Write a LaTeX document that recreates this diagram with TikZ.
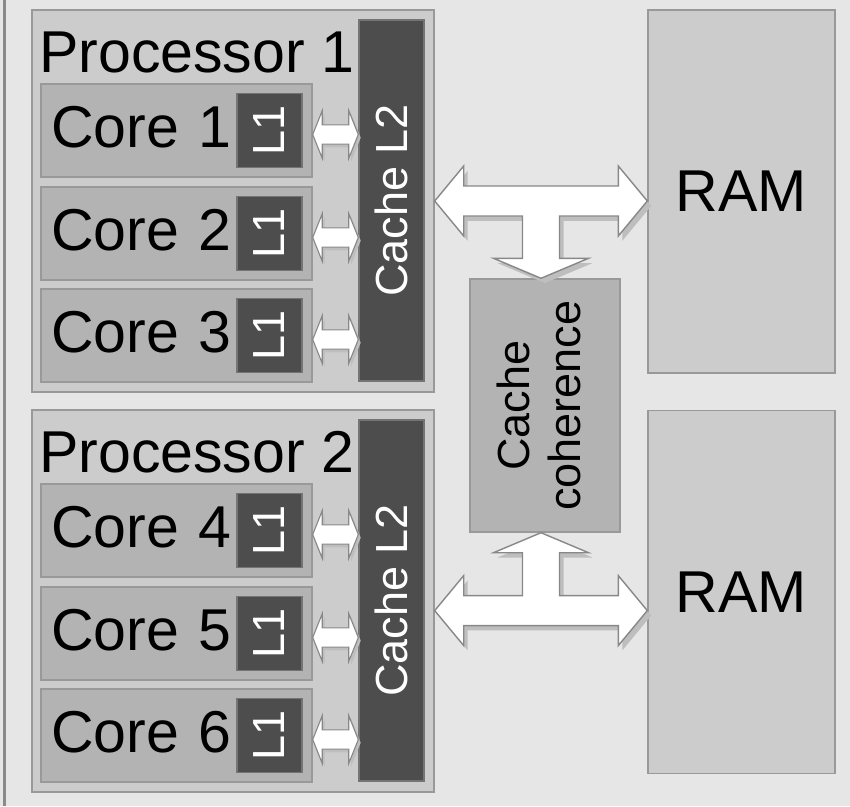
\documentclass[tikz,border=0pt]{standalone}
\usepackage{fontspec}
\setmainfont{Liberation Sans}
\usepackage{graphicx}
\usetikzlibrary{calc,shadows}
\definecolor{bggray}{HTML}{E6E6E6}
\definecolor{framegray}{HTML}{8A8A8A}
\definecolor{procgray}{HTML}{CCCCCC}
\definecolor{coregray}{HTML}{B3B3B3}
\definecolor{cachegray}{HTML}{4D4D4D}
\definecolor{cacheedge}{HTML}{747474}
\definecolor{edgegray}{HTML}{999999}
\definecolor{arrowgray}{HTML}{888888}
\definecolor{shadowgray}{HTML}{BEBEBE}

\begin{document}
\begin{tikzpicture}[
  proc/.style={draw=edgegray,fill=procgray,line width=1pt,inner sep=0pt,
    minimum width=10.05cm,minimum height=9.55cm},
  plabel/.style={font=\fontsize{42}{48}\selectfont,inner sep=0pt,anchor=base west},
  core/.style={draw=edgegray,fill=coregray,line width=1pt,align=left,
    font=\fontsize{42}{48}\selectfont,text width=6.275cm,inner xsep=0.25cm,
    inner ysep=0pt,text depth=0.2cm,minimum height=2.325cm},
  cache/.style={draw=cacheedge,fill=cachegray,text=white,line width=1pt,
    inner sep=0pt,minimum width=1.625cm,font=\fontsize{32}{36}\selectfont},
  l1/.style={cache,minimum height=1.85cm,anchor=east},
  l2/.style={cache,minimum height=9.025cm},
  ram/.style={draw=edgegray,fill=procgray,line width=1pt,
    minimum width=4.675cm,minimum height=9.075cm,font=\fontsize{42}{48}\selectfont},
  coher/.style={draw=edgegray,fill=coregray,line width=1pt,
    minimum width=3.75cm,minimum height=6.325cm,font=\fontsize{32}{36}\selectfont},
  bigarrow/.style={draw=arrowgray,fill=white,line width=1pt,
    drop shadow={shadow xshift=0.1cm,shadow yshift=-0.12cm,fill=shadowgray,opacity=1}},
  l1arrow/.style={draw=arrowgray,fill=white,line width=0.8pt,
    drop shadow={shadow xshift=0.06cm,shadow yshift=-0.08cm,fill=shadowgray,opacity=1},
    to path={($(\tikztostart)+(0,-0.1)$) -- ($(\tikztostart)+(0.24,0.5)$)
      -- ($(\tikztostart)+(0.24,0.14)$) -- ($(\tikztotarget)+(-0.24,0.14)$)
      -- ($(\tikztotarget)+(-0.24,0.5)$) -- ($(\tikztotarget)+(0,-0.1)$)
      -- ($(\tikztotarget)+(-0.24,-0.7)$) -- ($(\tikztotarget)+(-0.24,-0.34)$)
      -- ($(\tikztostart)+(0.24,-0.34)$) -- ($(\tikztostart)+(0.24,-0.7)$)
      -- cycle}}]
\fill[bggray] (0,0) rectangle (21.25,-20.15);
\useasboundingbox (0,0) rectangle (21.25,-20.15);
\draw[framegray,line width=0.075cm] (0.1,0) -- (0.1,-20.15);
% processor 1
\node[proc] (p1) at (5.825,-5.025) {};
\node[plabel] at ([shift={(0.19,-1.575)}]p1.north west) {Processor 1};
\node[l2] (l2a) at (9.7875,-5.0125) {\rotatebox{90}{Cache L2}};
\node[core] (c1) at (4.4125,-3.2625) {Core 1};
\node[core] (c2) at (4.4125,-5.8375) {Core 2};
\node[core] (c3) at (4.4125,-8.3875) {Core 3};
\node[l1] (l1a) at ([xshift=-0.25cm]c1.east) {\rotatebox{90}{L1}};
\node[l1] (l1b) at ([xshift=-0.25cm]c2.east) {\rotatebox{90}{L1}};
\node[l1] (l1c) at ([xshift=-0.25cm]c3.east) {\rotatebox{90}{L1}};
% processor 2
\node[proc] (p2) at (5.825,-15.025) {};
\node[plabel] at ([shift={(0.19,-1.575)}]p2.north west) {Processor 2};
\node[l2] (l2b) at (9.7875,-15.0125) {\rotatebox{90}{Cache L2}};
\node[core] (c4) at (4.4125,-13.2625) {Core 4};
\node[core] (c5) at (4.4125,-15.8375) {Core 5};
\node[core] (c6) at (4.4125,-18.3875) {Core 6};
\node[l1] (l1d) at ([xshift=-0.25cm]c4.east) {\rotatebox{90}{L1}};
\node[l1] (l1e) at ([xshift=-0.25cm]c5.east) {\rotatebox{90}{L1}};
\node[l1] (l1f) at ([xshift=-0.25cm]c6.east) {\rotatebox{90}{L1}};
% memory side
\node[ram] (r1) at (18.5375,-4.7875) {RAM};
\node[ram] (r2) at (18.5375,-14.8) {RAM};
\node[coher] (coh) at (13.625,-10.1375)
  {\rotatebox{90}{\begin{tabular}{@{}c@{}}Cache\\coherence\end{tabular}}};
\draw[l1arrow] (c1.east) to (c1.east -| l2a.west);
\draw[l1arrow] (c2.east) to (c2.east -| l2a.west);
\draw[l1arrow] (c3.east) to (c3.east -| l2a.west);
\draw[l1arrow] (c4.east) to (c4.east -| l2b.west);
\draw[l1arrow] (c5.east) to (c5.east -| l2b.west);
\draw[l1arrow] (c6.east) to (c6.east -| l2b.west);
\draw[bigarrow] (p1.east) -- ++(0.725,0.875) -- ++(0,-0.5)
  -- ($(p1.east -| r1.west)+(-0.725,0.375)$) -- ++(0,0.5) -- (p1.east -| r1.west)
  -- ++(-0.725,-0.875) -- ++(0,0.5)
  -| ($(coh.north)+(0.3625,0.5)$) -- ++(0.725,0) -- ($(coh.north)+(-0.1,0)$)
  -- ($(coh.north)+(-1.2875,0.5)$) -- ++(0.725,0)
  |- ($(p1.east)+(0.725,-0.375)$) -- ++(0,-0.5) -- cycle;
\coordinate (a2) at ([yshift=-0.24cm]p2.east);
\coordinate (b2) at (a2 -| r2.west);
\draw[bigarrow] (a2) -- ++(0.725,-0.875) -- ++(0,0.5)
  -- ($(b2)+(-0.725,-0.375)$) -- ++(0,-0.5) -- (b2)
  -- ++(-0.725,0.875) -- ++(0,-0.5)
  -| ($(coh.south)+(0.3625,-0.5)$) -- ++(0.725,0) -- ($(coh.south)+(-0.1,0)$)
  -- ($(coh.south)+(-1.2875,-0.5)$) -- ++(0.725,0)
  |- ($(a2)+(0.725,0.375)$) -- ++(0,0.5) -- cycle;
\end{tikzpicture}
\end{document}
